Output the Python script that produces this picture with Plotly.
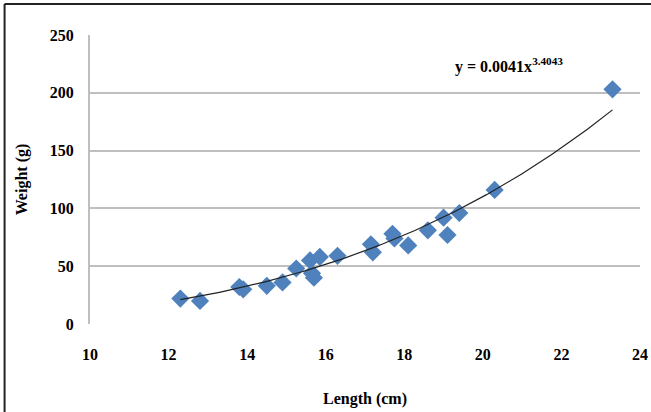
import numpy as np
import plotly.graph_objects as go

length_cm = [12.3, 12.8, 13.8, 13.9, 14.5, 14.9, 15.25, 15.6, 15.65, 15.7, 15.85,
             16.3, 17.15, 17.2, 17.7, 17.75, 18.1, 18.6, 19.0, 19.1, 19.4, 20.3, 23.3]
weight_g = [22, 20, 32, 30, 33, 36, 48, 55, 44, 40, 58,
            59, 69, 62, 78, 74, 68, 81, 92, 77, 96, 116, 203]

coef_a = 0.0041
coef_b = 3.4043
x_ticks = [10, 12, 14, 16, 18, 20, 22, 24]
y_ticks = [0, 50, 100, 150, 200, 250]

xs = np.linspace(min(length_cm), max(length_cm), 200)
ys = coef_a * xs ** coef_b

font_family = "Liberation Serif, Times New Roman, serif"

fig = go.Figure()
fig.add_trace(go.Scatter(x=length_cm, y=weight_g, mode="markers",
                         marker=dict(symbol="diamond", size=14, color="#4F81BD",
                                     line=dict(width=0)),
                         showlegend=False))
fig.add_trace(go.Scatter(x=xs, y=ys, mode="lines",
                         line=dict(color="#222222", width=1.2),
                         showlegend=False))

fig.update_layout(
    width=651, height=412,
    margin=dict(l=89.5, r=11, t=35, b=88, autoexpand=False),
    paper_bgcolor="white", plot_bgcolor="white",
    font=dict(family=font_family, size=16, color="black"),
    xaxis=dict(range=[10, 24], tickvals=x_ticks, ticktext=[f"<b>{v}</b>" for v in x_ticks],
               showgrid=False, zeroline=False, showline=False, automargin=False,
               ticks="", ticklabelstandoff=19,
               title=dict(text="<b>Length (cm)</b>", font=dict(size=16), standoff=30)),
    yaxis=dict(range=[0, 250], tickvals=y_ticks, ticktext=[f"<b>{v}</b>" for v in y_ticks],
               showgrid=True, gridcolor="#BFBFBF", gridwidth=2, automargin=False,
               zeroline=False, showline=True, linecolor="#BFBFBF", linewidth=2,
               ticks="", ticklabelstandoff=11,
               title=dict(text="<b>Weight (g)</b>", font=dict(size=16), standoff=18)),
    annotations=[dict(x=19.25, y=224, xref="x", yref="y", xanchor="left", yanchor="middle",
                      text="<b>y = 0.0041x<sup>3.4043</sup></b>", showarrow=False,
                      font=dict(size=16))],
    shapes=[
        dict(type="line", xref="paper", yref="paper", x0=-0.1553, x1=1.03, y0=1.107, y1=1.107,
             line=dict(color="#222222", width=2)),
        dict(type="line", xref="paper", yref="paper", x0=-0.1553, x1=-0.1553, y0=1.107, y1=-0.31,
             line=dict(color="#222222", width=2)),
    ],
)

fig.write_html("out.html", config={"displayModeBar": False},
               post_script="document.body.style.margin='0';")
